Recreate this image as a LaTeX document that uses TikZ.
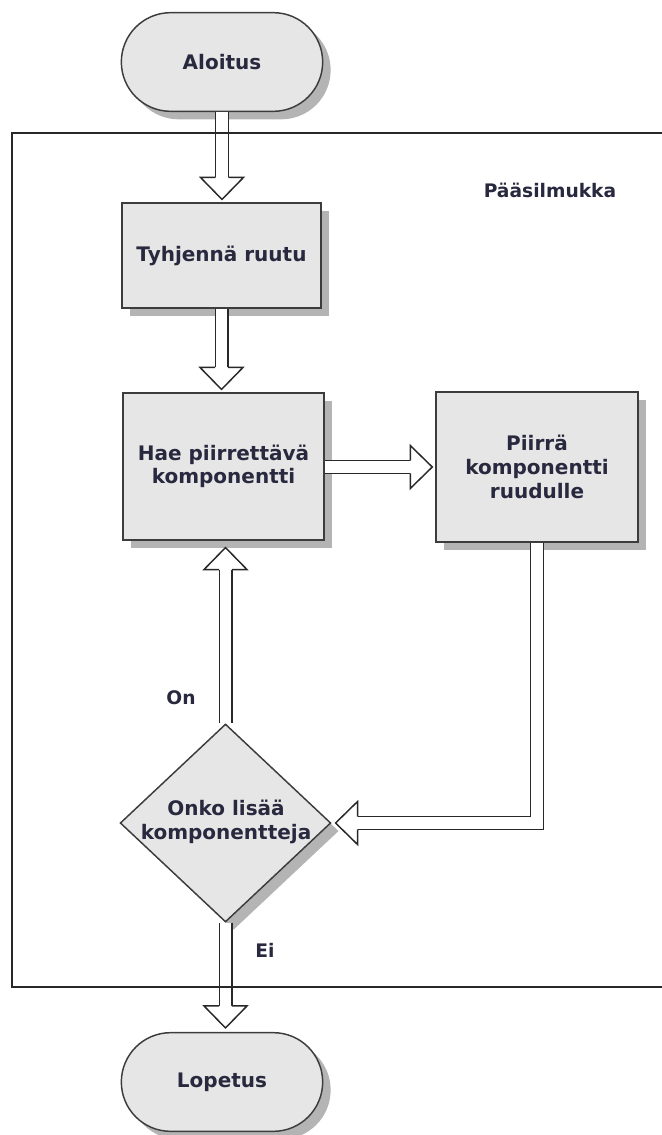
\documentclass[tikz,border=0pt]{standalone}
\usepackage{fontspec}
\setmainfont{DejaVu Sans}
\usetikzlibrary{shapes.geometric,shapes.misc,shadows,calc}
\definecolor{boxfill}{RGB}{230,230,230}
\definecolor{boxline}{RGB}{60,60,60}
\definecolor{shade}{RGB}{180,180,180}
\definecolor{txt}{RGB}{40,40,62}
\definecolor{ink}{RGB}{40,40,40}

\tikzset{
  pics/fathead/.style={code={%
    \draw[headline] (-22,-6.3) -- (-22,-21.5) -- (0,0) -- (-22,21.5) -- (-22,6.3);}},
}

\begin{document}
\begin{tikzpicture}[x=0.75pt,y=-0.75pt,
  every node/.style={font=\bfseries\fontsize{15}{17.5}\selectfont,text=txt,align=center},
  shadowed/.style={drop shadow={shadow xshift=6pt,shadow yshift=-6pt,fill=shade,opacity=1}},
  box/.style={draw=boxline,line width=1.1pt,fill=boxfill,shadowed,inner sep=0pt},
  terminal/.style={box,rounded rectangle,minimum width=151pt,minimum height=74pt},
  process/.style={box,rectangle},
  decision/.style={box,diamond,minimum width=158pt,minimum height=148.5pt},
  shaft/.style={draw=ink,line width=1.1pt,double=white,double distance=8.3pt,line join=miter},
  headline/.style={draw=ink,line width=1.1pt,fill=white,line join=miter},
  frameline/.style={draw=ink,line width=1.2pt},
  note/.style={font=\bfseries\fontsize{14}{17}\selectfont},
]
\useasboundingbox (0,0) rectangle (661,1135);

% flow chart steps
\node[terminal] (start) at (222,62) {Aloitus};
\node[process,minimum width=149pt,minimum height=78.5pt] (clear) at (221.5,255.5) {Tyhjennä ruutu};
\node[process,minimum width=150.5pt,minimum height=110pt] (fetch) at (223.5,466.5) {Hae piirrettävä\\komponentti};
\node[process,minimum width=151.5pt,minimum height=112.5pt,font=\bfseries\fontsize{15}{18}\selectfont] (render) at (537,467) {Piirrä\\komponentti\\ruudulle};
\node[decision] (more) at (225.5,823) {};
\node (moretext) at (226,822) {Onko lisää\\komponentteja};
\node[terminal] (stop) at (222,1082) {Lopetus};

% labels
\node[note] (title) at (550,190) {Pääsilmukka};
\node[note] (yes) at (181,698) {On};
\node[note] (no) at (265,950) {Ei};

% hollow connector shafts
\draw[shaft] (start.south) -- ($(start.south |- clear.north)+(0,-25)$);
\draw[shaft] (clear.south) -- ($(clear.south |- fetch.north)+(0,-25)$);
\draw[shaft] (fetch.east |- render.west) -- ($(render.west)+(-25,0)$);
\draw[shaft] (render.south) -- (render.south |- more.east) -- ($(more.east)+(26,0)$);
\draw[shaft] (more.north) -- ($(more.north |- fetch.south)+(0,29)$);
\draw[shaft] (more.south) -- ($(more.south |- stop.north)+(0,-26)$);

% hollow arrow heads
\pic[rotate=-90] at ($(start.south |- clear.north)+(0,-3)$) {fathead};
\pic[rotate=-90] at ($(clear.south |- fetch.north)+(0,-3)$) {fathead};
\pic[rotate=0]   at ($(render.west)+(-3,0)$) {fathead};
\pic[rotate=180] at ($(more.east)+(4,0)$) {fathead};
\pic[rotate=90]  at ($(more.north |- fetch.south)+(0,7)$) {fathead};
\pic[rotate=-90] at ($(more.south |- stop.north)+(0,-4)$) {fathead};

% main loop frame
\draw[frameline] (675,133) -- (12,133) -- (12,987) -- (675,987);
\end{tikzpicture}
\end{document}
